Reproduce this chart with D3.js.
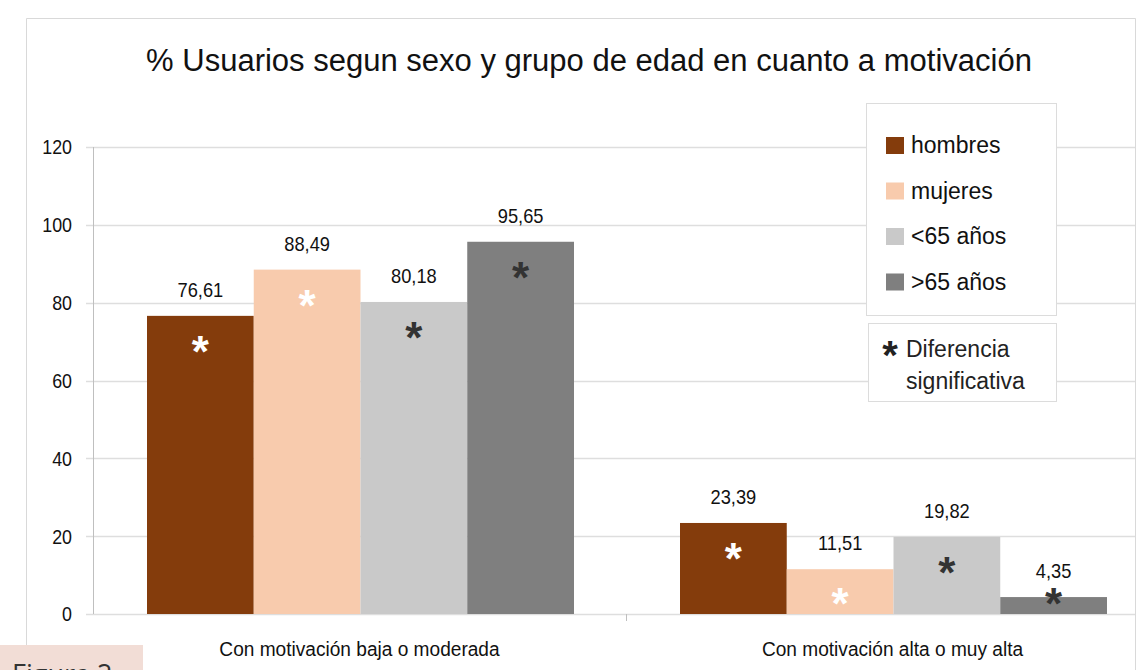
<!DOCTYPE html>
<html lang="es">
  <head>
    <meta charset="UTF-8" />
    <title>% Usuarios segun sexo y grupo de edad</title>
    <script src="https://d3js.org/d3.v7.min.js"></script>
    <style>
      body {
        margin: 0;
        background: #fff;
      }
      svg {
        display: block;
        font-family: "Liberation Sans", Arial, sans-serif;
      }
    </style>
  </head>
  <body>
    <script>
      // chart data
      const categories = ["Con motivación baja o moderada", "Con motivación alta o muy alta"];
      const seriesNames = ["hombres", "mujeres", "<65 años", ">65 años"];
      const hombres = [76.61, 23.39];
      const mujeres = [88.49, 11.51];
      const menos65 = [80.18, 19.82];
      const mas65 = [95.65, 4.35];
      const yTicks = [0, 20, 40, 60, 80, 100, 120];

      const seriesValues = [hombres, mujeres, menos65, mas65];
      const colors = ["#843c0c", "#f8cbad", "#c9c9c9", "#7f7f7f"];
      const starColors = ["#ffffff", "#ffffff", "#333333", "#333333"];

      const W = 1142, H = 670;
      const svg = d3.select("body").append("svg").attr("width", W).attr("height", H);

      // no narrow font available, so squeeze the regular one a bit
      function narrow(sel, sx) {
        sel.attr("transform", function (d) {
          const t = d3.select(this);
          const px = +t.attr("data-x"), py = +t.attr("data-y");
          return `translate(${px},${py}) scale(${sx},1)`;
        });
      }

      // outer frame (cropped on the right and bottom)
      svg.append("path")
        .attr("d", "M26.5,645 V18.5 H1135.5 V670")
        .attr("fill", "none")
        .attr("stroke", "#d9d9d9");

      svg.append("text")
        .attr("x", 589)
        .attr("y", 71)
        .attr("text-anchor", "middle")
        .style("font-size", "31px")
        .attr("fill", "#111")
        .text("% Usuarios segun sexo y grupo de edad en cuanto a motivación");

      const y = d3.scaleLinear().domain([0, 120]).range([614, 147]);
      const x0 = d3.scaleBand().domain(categories).range([93, 1159]).paddingInner(0).paddingOuter(0);
      const x1 = d3.scaleBand().domain(seriesNames).range([54, x0.bandwidth() - 52]);

      // gridlines
      svg.append("g")
        .selectAll("line")
        .data(yTicks)
        .join("line")
        .attr("x1", 86)
        .attr("x2", 1135)
        .attr("y1", d => Math.round(y(d)) + 0.5)
        .attr("y2", d => Math.round(y(d)) + 0.5)
        .attr("stroke", "#dedede")
        .attr("stroke-width", 1.5);

      // y axis line
      svg.append("line")
        .attr("x1", 93.5).attr("x2", 93.5)
        .attr("y1", y(120)).attr("y2", y(0))
        .attr("stroke", "#bfbfbf");

      // category separator tick
      svg.append("line")
        .attr("x1", x0(categories[1]) + 0.5).attr("x2", x0(categories[1]) + 0.5)
        .attr("y1", y(0)).attr("y2", y(0) + 7)
        .attr("stroke", "#bfbfbf");

      svg.append("g")
        .selectAll("text")
        .data(yTicks)
        .join("text")
        .attr("data-x", 72)
        .attr("data-y", d => y(d))
        .attr("dy", "0.35em")
        .attr("text-anchor", "end")
        .style("font-size", "21px")
        .attr("fill", "#111")
        .text(d => d)
        .call(narrow, 0.85);

      svg.append("g")
        .selectAll("text")
        .data(categories)
        .join("text")
        .attr("data-x", d => x0(d) + x0.bandwidth() / 2)
        .attr("data-y", 656)
        .attr("text-anchor", "middle")
        .style("font-size", "21px")
        .attr("fill", "#111")
        .text(d => d)
        .call(narrow, 0.91);

      // bars
      const bars = [];
      categories.forEach((c, ci) => {
        seriesNames.forEach((s, si) => {
          bars.push({ cat: c, name: s, si: si, value: seriesValues[si][ci] });
        });
      });

      const g = svg.append("g");
      g.selectAll("rect")
        .data(bars)
        .join("rect")
        .attr("x", d => x0(d.cat) + x1(d.name))
        .attr("y", d => y(d.value))
        .attr("width", x1.bandwidth())
        .attr("height", d => y(0) - y(d.value))
        .attr("fill", d => colors[d.si]);

      g.selectAll("text.val")
        .data(bars)
        .join("text")
        .attr("class", "val")
        .attr("data-x", d => x0(d.cat) + x1(d.name) + x1.bandwidth() / 2)
        .attr("data-y", d => y(d.value) - 19)
        .attr("text-anchor", "middle")
        .style("font-size", "21px")
        .attr("fill", "#111")
        .text(d => d3.format(".2f")(d.value).replace(".", ","))
        .call(narrow, 0.87);

      // significance stars
      g.selectAll("text.star")
        .data(bars)
        .join("text")
        .attr("class", "star")
        .attr("x", d => x0(d.cat) + x1(d.name) + x1.bandwidth() / 2)
        .attr("y", d => Math.min(y(d.value) + 33, y(0) - 13) + 18)
        .attr("text-anchor", "middle")
        .style("font-size", "44px")
        .style("font-weight", "bold")
        .attr("fill", d => starColors[d.si])
        .text("*");

      // legend
      const leg = svg.append("g");
      leg.append("rect")
        .attr("x", 866.5).attr("y", 103.5)
        .attr("width", 190).attr("height", 212)
        .attr("fill", "#fff").attr("stroke", "#dcdcdc");
      const li = leg.selectAll("g.item")
        .data(seriesNames)
        .join("g")
        .attr("class", "item")
        .attr("transform", (d, i) => `translate(886,${145 + i * 45.5})`);
      li.append("rect")
        .attr("x", 0).attr("y", -8)
        .attr("width", 18).attr("height", 17)
        .attr("fill", (d, i) => colors[i]);
      li.append("text")
        .attr("x", 25)
        .attr("dy", "0.35em")
        .style("font-size", "23px")
        .attr("fill", "#111")
        .text(d => d);

      leg.append("rect")
        .attr("x", 868.5).attr("y", 323.5)
        .attr("width", 188).attr("height", 78)
        .attr("fill", "#fff").attr("stroke", "#dcdcdc");
      leg.append("text")
        .attr("x", 890).attr("y", 369)
        .attr("text-anchor", "middle")
        .style("font-size", "40px")
        .style("font-weight", "bold")
        .attr("fill", "#222")
        .text("*");
      leg.append("text")
        .attr("x", 906).attr("y", 357)
        .style("font-size", "23px")
        .attr("fill", "#222")
        .text("Diferencia");
      leg.append("text")
        .attr("x", 906).attr("y", 389)
        .style("font-size", "23px")
        .attr("fill", "#222")
        .text("significativa");

      // "Figura 2" caption tab, cut by the bottom edge as in the source
      svg.append("rect")
        .attr("x", 0).attr("y", 645)
        .attr("width", 143).attr("height", 30)
        .attr("fill", "#f2ddd6");
      svg.append("text")
        .attr("x", 12).attr("y", 684)
        .style("font-family", "'Open Sans', sans-serif")
        .style("font-size", "27px")
        .attr("fill", "#333")
        .text("Figura 2");
    </script>
  </body>
</html>
